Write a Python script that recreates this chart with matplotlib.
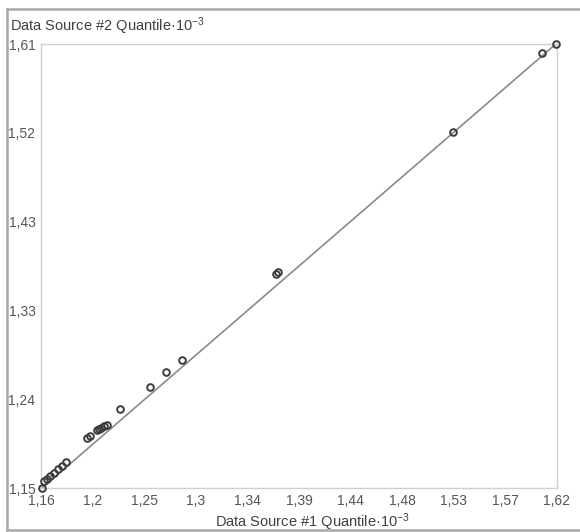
import numpy as np
import matplotlib
matplotlib.use("Agg")
import matplotlib.pyplot as plt
from matplotlib.lines import Line2D

plt.rcParams['font.family'] = ['Liberation Sans', 'DejaVu Sans']
plt.rcParams['mathtext.default'] = 'regular'

# quantiles (x 10^-3) of source 1 vs source 2
src1_q = [1.159, 1.1607, 1.1634, 1.1661, 1.1697, 1.1733, 1.1768, 1.1804,
          1.1993, 1.2020, 1.2083, 1.2100, 1.2118, 1.2145, 1.2172,
          1.2289, 1.2558, 1.2702, 1.2845, 1.3690, 1.3710,
          1.5277, 1.6075, 1.6200]
src2_q = [1.148, 1.1549, 1.1576, 1.1602, 1.1638, 1.1674, 1.1709, 1.1746,
          1.2001, 1.2022, 1.2084, 1.2095, 1.2105, 1.2126, 1.2136,
          1.2303, 1.2532, 1.2688, 1.2813, 1.3710, 1.3730,
          1.5188, 1.6011, 1.6105]

x_range = (1.158, 1.621)
y_range = (1.148, 1.6105)
x_tick_labels = ['1,16', '1,2', '1,25', '1,3', '1,34', '1,39',
                 '1,44', '1,48', '1,53', '1,57', '1,62']
y_tick_labels = ['1,15', '1,24', '1,33', '1,43', '1,52', '1,61']

fig = plt.figure(figsize=(5.8, 5.32), dpi=100)
ax = fig.add_axes([41 / 580, 1 - 488 / 532, 516 / 580, 444 / 532])

# reference line through the extreme quantiles
ax.plot([src1_q[0], src1_q[-1]], [src2_q[0], src2_q[-1]],
        color='#8a8a8a', lw=1.2, zorder=2)
ax.plot(src1_q, src2_q, 'o', ms=4.8, mfc='none', mec='#3c3c3c',
        mew=1.4, zorder=3, clip_on=False)

ax.set_xlim(*x_range)
ax.set_ylim(*y_range)
ax.set_xticks(np.linspace(x_range[0], x_range[1], len(x_tick_labels)))
ax.set_xticklabels(x_tick_labels)
ax.set_yticks(np.linspace(y_range[0], y_range[1], len(y_tick_labels)))
ax.set_yticklabels(y_tick_labels)
ax.tick_params(length=0, labelsize=10, labelcolor='#555555', pad=4)
for s in ax.spines.values():
    s.set_color('#cfcfcf')
    s.set_linewidth(1.0)

fig.text(10 / 580, 1 - 31 / 532, 'Data Source #2 Quantile·10$^{-3}$',
         fontsize=10.5, color='#404040', ha='left', va='baseline')
fig.text(312 / 580, 1 - 527 / 532, 'Data Source #1 Quantile·10$^{-3}$',
         fontsize=10.5, color='#404040', ha='center', va='baseline')

# outer frame
frame_kw = dict(color='#a8a8a8', lw=1.8, transform=fig.transFigure)
fig.add_artist(Line2D([7 / 580, 7 / 580], [1 - 9 / 532, 1 - 530 / 532], **frame_kw))
fig.add_artist(Line2D([7 / 580, 1.0], [1 - 9 / 532, 1 - 9 / 532], **frame_kw))
fig.add_artist(Line2D([7 / 580, 1.0], [1 - 530 / 532, 1 - 530 / 532], **frame_kw))

fig.savefig('out.png', dpi=100)
